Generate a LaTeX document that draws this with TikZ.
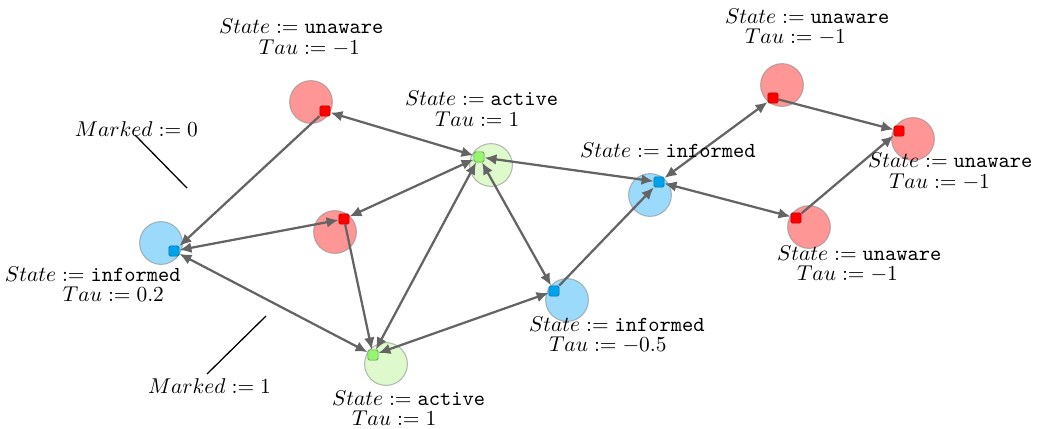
\documentclass[tikz,border=0pt]{standalone}
\usetikzlibrary{arrows.meta}
\pgfdeclarelayer{bg}
\pgfdeclarelayer{fg}
\pgfsetlayers{bg,main,fg}
\definecolor{redfill}{RGB}{255,150,150}
\definecolor{bluefill}{RGB}{155,218,250}
\definecolor{greenfill}{RGB}{222,250,205}
\definecolor{redsq}{RGB}{255,0,0}
\definecolor{bluesq}{RGB}{0,162,235}
\definecolor{greensq}{RGB}{150,245,110}
\definecolor{edgegray}{RGB}{100,100,100}
\tikzset{
  agent/.style={circle, minimum size=20pt, inner sep=0, draw=black!45, draw opacity=0.6, line width=0.5pt},
  unaware/.style={agent, fill=redfill},
  informed/.style={agent, fill=bluefill},
  activec/.style={agent, fill=greenfill},
  sq/.style={rectangle, rounded corners=0.8pt, minimum size=4.8pt, inner sep=0, line width=0.3pt},
  sqred/.style={sq, fill=redsq, draw=red!70!black},
  sqblue/.style={sq, fill=bluesq, draw=bluesq!70!black},
  sqgreen/.style={sq, fill=greensq, draw=greensq!60!black},
  tip/.tip={Latex[length=5.6pt,width=5pt]},
  link/.style={draw=edgegray, line width=1.05pt, -tip},
  blink/.style={draw=edgegray, line width=1.05pt, tip-tip},
  lbl/.style={anchor=base west, inner sep=0, outer sep=0},
  pointer/.style={draw=black, line width=0.6pt}
}
\begin{document}
\begin{tikzpicture}[x=0.467pt, y=-0.467pt]
\useasboundingbox (0,0) rectangle (1039,428);
% agent circles
\begin{pgfonlayer}{bg}
\node[informed] (cA) at (161,243) {};
\node[unaware]  (cB) at (311,102) {};
\node[unaware]  (cC) at (335,232) {};
\node[activec]  (cD) at (491,165) {};
\node[activec]  (cE) at (386,364) {};
\node[informed] (cF) at (567,300) {};
\node[informed] (cG) at (650,195) {};
\node[unaware]  (cH) at (782,85) {};
\node[unaware]  (cI) at (913,139) {};
\node[unaware]  (cJ) at (809,227) {};
\end{pgfonlayer}
% squares
\begin{pgfonlayer}{fg}
\node[sqblue]  (A) at (174,251) {};
\node[sqred]   (B) at (325,111) {};
\node[sqred]   (C) at (344,219) {};
\node[sqgreen] (D) at (479,157) {};
\node[sqgreen] (E) at (373,355) {};
\node[sqblue]  (F) at (554,291) {};
\node[sqblue]  (G) at (659,182) {};
\node[sqred]   (H) at (773,98) {};
\node[sqred]   (I) at (899,131) {};
\node[sqred]   (J) at (796,218) {};
\end{pgfonlayer}
% connectors
\draw[link]  (B) -- (A);
\draw[blink] (B) -- (D);
\draw[blink] (A) -- (C);
\draw[blink] (A) -- (E);
\draw[blink] (C) -- (D);
\draw[link]  (C) -- (E);
\draw[blink] (D) -- (E);
\draw[blink] (D) -- (F);
\draw[blink] (E) -- (F);
\draw[link]  (F) -- (G);
\draw[blink] (G) -- (D);
\draw[blink] (G) -- (H);
\draw[blink] (G) -- (J);
\draw[link]  (H) -- (I);
\draw[link]  (J) -- (I);
% labels
\node[lbl] (lB1) at (219,33) {$State := \texttt{unaware}$};
\node[lbl] (lB2) at (259,54) {$Tau := -1$};
\node[lbl] (lH1) at (725,23) {$State := \texttt{unaware}$};
\node[lbl] (lH2) at (745,43) {$Tau := -1$};
\node[lbl] (lG1) at (580,157) {$State := \texttt{informed}$};
\node[lbl] (lI1) at (868,167) {$State := \texttt{unaware}$};
\node[lbl] (lI2) at (889,188) {$Tau := -1$};
\node[lbl] (lJ1) at (777,260) {$State := \texttt{unaware}$};
\node[lbl] (lJ2) at (797,280) {$Tau := -1$};
\node[lbl] (lD1) at (405,105) {$State := \texttt{active}$};
\node[lbl] (lD2) at (435,126) {$Tau := 1$};
\node[lbl] (lA1) at (5,281) {$State := \texttt{informed}$};
\node[lbl] (lA2) at (63,301) {$Tau := 0.2$};
\node[lbl] (lE1) at (332,405) {$State := \texttt{active}$};
\node[lbl] (lE2) at (352,425) {$Tau := 1$};
\node[lbl] (lF1) at (529,331) {$State := \texttt{informed}$};
\node[lbl] (lF2) at (549,351) {$Tau := -0.5$};
% marked annotations
\node[lbl] (m0) at (75,136) {$Marked := 0$};
\coordinate (m0a) at (135,135);
\coordinate (m0b) at (187,188);
\draw[pointer] (m0a) -- (m0b);
\node[lbl] (m1) at (148,393) {$Marked := 1$};
\coordinate (m1a) at (207,374);
\coordinate (m1b) at (266,316);
\draw[pointer] (m1a) -- (m1b);
\end{tikzpicture}
\end{document}
